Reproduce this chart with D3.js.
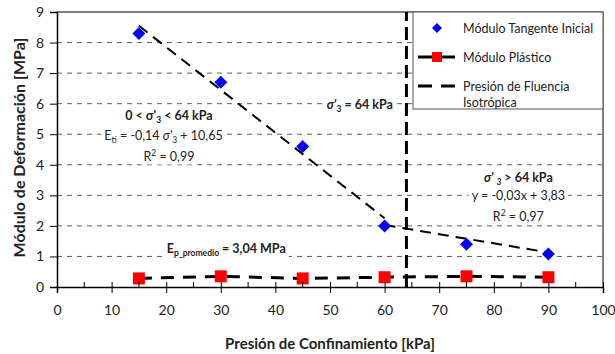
<!DOCTYPE html>
<html>
<head>
<meta charset="utf-8">
<script src="https://cdn.jsdelivr.net/npm/d3@7"></script>
<style>
  body { margin: 0; background: #fff; }
  svg { display: block; font-family: Lato, "Open Sans", sans-serif; }
</style>
</head>
<body>
<svg id="chart" width="615" height="354"></svg>
<script>
// confinement pressure (kPa)
const pressures = [15, 30, 45, 60, 75, 90];
// initial tangent modulus (MPa)
const tangentValues = [8.3, 6.7, 4.6, 2.0, 1.4, 1.08];
// plastic modulus (MPa)
const plasticValues = [0.28, 0.35, 0.28, 0.32, 0.35, 0.32];
// isotropic yield pressure
const yieldPressure = 64;
// trend lines, end points [x, y]
const trendLow = [[15, 8.55], [60, 2.25]];
const trendHigh = [[60, 2.03], [90, 1.13]];
const xTicks = [0, 10, 20, 30, 40, 50, 60, 70, 80, 90, 100];
const xMinorTicks = [5, 15, 25, 35, 45, 55, 65, 75, 85, 95];
const yTicks = [0, 1, 2, 3, 4, 5, 6, 7, 8, 9];

const svg = d3.select('#chart');
const margin = { top: 12, right: 12, bottom: 67, left: 57 };
const width = 615 - margin.left - margin.right;
const height = 354 - margin.top - margin.bottom;

const x = d3.scaleLinear().domain([0, 100]).range([0, width]);
const y = d3.scaleLinear().domain([0, 9]).range([height, 0]);

const g = svg.append('g').attr('transform', `translate(${margin.left},${margin.top})`);

// dashed grid lines
g.append('g')
    .selectAll('line')
    .data(yTicks.filter(d => d > 0 && d < 9))
    .join('line')
    .attr('x1', 0).attr('x2', width)
    .attr('y1', d => y(d)).attr('y2', d => y(d))
    .attr('stroke', '#333')
    .attr('stroke-width', 0.8)
    .attr('stroke-dasharray', '5,5');

// top and right border
g.append('path')
    .attr('d', `M0,${y(9)}H${width}V${height}`)
    .attr('fill', 'none')
    .attr('stroke', '#000')
    .attr('stroke-width', 1);

// text annotations with white background (they cut the grid)
const notes = g.append('g');
const shift = { sub: 3, sup: -5 };

// parts: [text, 'sub' | 'sup' | '', italic]
function note(xv, yv, anchor, bold, parts) {
    const t = notes.append('text')
        .attr('x', x(xv)).attr('y', y(yv))
        .attr('text-anchor', anchor)
        .attr('fill', '#222')
        .style('font-size', '12.5px')
        .style('font-weight', bold ? 'bold' : 'normal');
    let cur = 0;
    parts.forEach(([s, pos, it]) => {
        const target = pos ? shift[pos] : 0;
        const ts = t.append('tspan').text(s).attr('dy', target - cur);
        cur = target;
        if (pos) ts.style('font-size', '8.5px');
        if (it) ts.style('font-style', 'italic');
    });
    const b = t.node().getBBox();
    notes.insert('rect', () => t.node())
        .attr('x', b.x - 3).attr('y', b.y)
        .attr('width', b.width + 6).attr('height', b.height)
        .attr('fill', '#fff');
}

note(20.5, 5.45, 'middle', true, [['0 < σ\''], ['3', 'sub'], [' < 64 kPa']]);
note(19.5, 4.8, 'middle', false, [['E'], ['ti', 'sub'], [' = -0,14 '], ['σ\'', '', true], ['3', 'sub'], [' + 10,65']]);
note(20.5, 4.11, 'middle', false, [['R'], ['2', 'sup'], [' = 0,99']]);
note(61.5, 5.84, 'end', true, [['σ\'', '', true], ['3', 'sub'], [' = 64 kPa']]);
note(84.5, 3.43, 'middle', true, [['σ\' ', '', true], ['3', 'sub', true], [' > 64 kPa']]);
note(84.5, 2.84, 'middle', false, [['y = -0,03x + 3,83']]);
note(84.5, 2.16, 'middle', false, [['R'], ['2', 'sup'], [' = 0,97']]);
note(31, 1.12, 'middle', true, [['E'], ['p_promedio', 'sub'], [' = 3,04 MPa']]);

// trend lines
const line = d3.line().x(d => x(d[0])).y(d => y(d[1]));
[trendLow, trendHigh].forEach(pts => {
    g.append('path')
        .attr('d', line(pts))
        .attr('fill', 'none')
        .attr('stroke', '#000')
        .attr('stroke-width', 2)
        .attr('stroke-dasharray', '11,7');
});

// yield pressure line
g.append('line')
    .attr('x1', x(yieldPressure)).attr('x2', x(yieldPressure))
    .attr('y1', y(0)).attr('y2', y(9))
    .attr('stroke', '#000')
    .attr('stroke-width', 3)
    .attr('stroke-dasharray', '13,6');

// plastic modulus line + markers
const plastic = pressures.map((p, i) => [p, plasticValues[i]]);
g.append('path')
    .attr('d', line(plastic))
    .attr('fill', 'none')
    .attr('stroke', '#000')
    .attr('stroke-width', 3)
    .attr('stroke-dasharray', '13,9');
g.append('g')
    .selectAll('rect')
    .data(plastic)
    .join('rect')
    .attr('x', d => x(d[0]) - 6)
    .attr('y', d => y(d[1]) - 6)
    .attr('width', 12).attr('height', 12)
    .attr('fill', '#ff0000');

// tangent markers
const tangent = pressures.map((p, i) => [p, tangentValues[i]]);
g.append('g')
    .selectAll('path')
    .data(tangent)
    .join('path')
    .attr('transform', d => `translate(${x(d[0])},${y(d[1])})`)
    .attr('d', 'M0,-6.5L6.5,0L0,6.5L-6.5,0Z')
    .attr('fill', '#0000ff');

// axes
const xAxis = g.append('g')
    .attr('transform', `translate(0,${height})`)
    .call(d3.axisBottom(x).tickValues(xTicks).tickSize(6).tickPadding(12));
xAxis.selectAll('.tick line').attr('y1', -5);
g.append('g')
    .attr('transform', `translate(0,${height})`)
    .selectAll('line')
    .data(xMinorTicks)
    .join('line')
    .attr('x1', d => x(d)).attr('x2', d => x(d))
    .attr('y1', -5).attr('y2', 0)
    .attr('stroke', '#000');

const yAxis = g.append('g')
    .call(d3.axisLeft(y).tickValues(yTicks).tickSize(7).tickPadding(6));

[xAxis, yAxis].forEach(a => {
    a.select('.domain').attr('stroke', '#000').attr('stroke-width', 1.5);
    a.selectAll('.tick text').attr('fill', '#222').style('font-size', '14px').style('font-family', 'Lato, sans-serif');
});

// axis titles
svg.append('text')
    .attr('x', 330).attr('y', 349)
    .attr('text-anchor', 'middle')
    .style('font-size', '15px').style('font-weight', 'bold')
    .attr('fill', '#222')
    .text('Presión de Confinamiento [kPa]');
svg.append('text')
    .attr('transform', `translate(25,${margin.top + height / 2 - 2}) rotate(-90)`)
    .attr('text-anchor', 'middle')
    .style('font-size', '16px').style('font-weight', 'bold')
    .attr('fill', '#222')
    .text('Módulo de Deformación [MPa]');

// legend
const leg = g.append('g').attr('transform', `translate(${x(65.2)},0)`);
const legW = width - x(65.2);
leg.append('rect')
    .attr('width', legW).attr('height', 97)
    .attr('fill', '#fff')
    .attr('stroke', '#555')
    .attr('stroke-width', 1);
const legItems = [
    { label: ['Módulo Tangente Inicial'], kind: 'diamond', yy: 16 },
    { label: ['Módulo Plástico'], kind: 'square', yy: 45 },
    { label: ['Presión de Fluencia', 'Isotrópica'], kind: 'dash', yy: 74 }
];
legItems.forEach(it => {
    const row = leg.append('g').attr('transform', `translate(0,${it.yy})`);
    if (it.kind === 'diamond') {
        row.append('path').attr('transform', 'translate(24,0)')
            .attr('d', 'M0,-5L5,0L0,5L-5,0Z').attr('fill', '#0000ff');
    } else if (it.kind === 'square') {
        row.append('line').attr('x1', 5).attr('x2', 42).attr('stroke', '#000').attr('stroke-width', 3);
        row.append('rect').attr('x', 19).attr('y', -5).attr('width', 10).attr('height', 10).attr('fill', '#ff0000');
    } else {
        row.append('line').attr('x1', 5).attr('x2', 42).attr('stroke', '#000').attr('stroke-width', 3)
            .attr('stroke-dasharray', '14,9');
    }
    const t = row.append('text').attr('x', 50).attr('y', 4.5)
        .style('font-size', '12.5px').attr('fill', '#222');
    it.label.forEach((s, i) => t.append('tspan').attr('x', 50).attr('dy', i ? 16 : 0).text(s));
});
</script>
</body>
</html>
